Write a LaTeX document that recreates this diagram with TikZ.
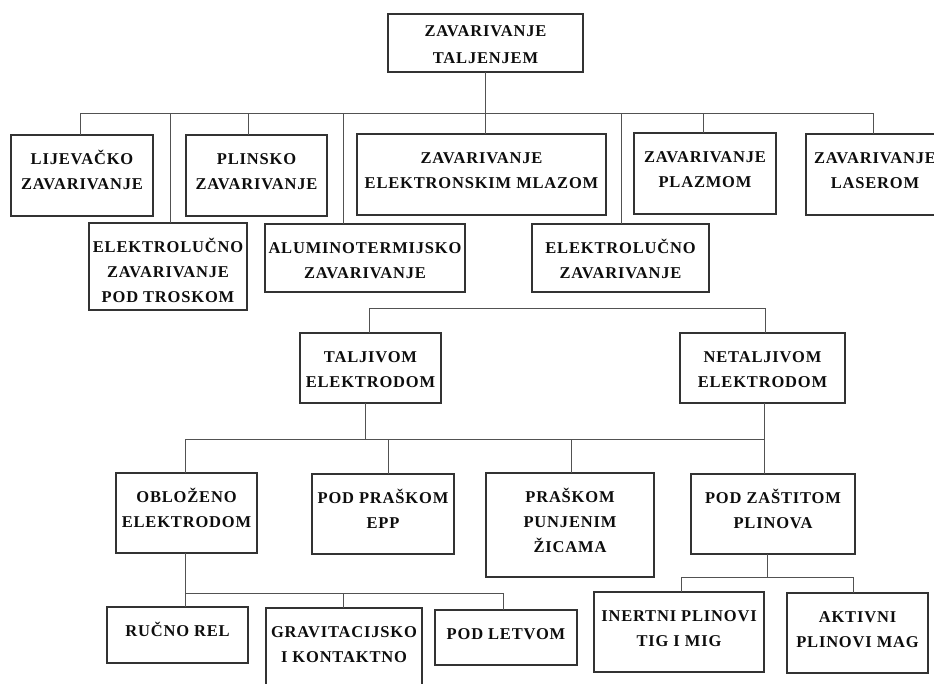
\documentclass[tikz,border=0pt]{standalone}
\usepackage{fontspec}
\setmainfont{Liberation Serif}[LetterSpace=5]
\begin{document}
\begin{tikzpicture}[x=1pt,y=-1pt,
  wbox/.style={draw=black!80, line width=1.1pt, rectangle, inner sep=0pt, outer sep=0pt, fill=white},
  wtxt/.style={anchor=base, align=center, inner sep=0pt, text=black!95,
    font=\fontsize{16.5}{25}\selectfont\bfseries},
  conn/.style={draw=black!68, line width=1pt}]
\clip (0,0) rectangle (934,684);
\fill[white] (0,0) rectangle (934,684);
% #6 = baseline of the LAST text line
\newcommand\wbox[7]{%
  \node[wbox, minimum width=#4pt, minimum height=#5pt] (#1) at (#2,#3) {};
  \node[wtxt] (#1t) at (#2,#6) {#7};}
% level 0
\node[wbox, minimum width=195pt, minimum height=58pt] (top) at (485.5,43) {};
\node[wtxt, font=\fontsize{16.5}{27}\selectfont\bfseries] (topt) at (485.5,64) {ZAVARIVANJE\\TALJENJEM};
% level 1
\wbox{lij}{82}{175.5}{142}{81}{189.5}{LIJEVAČKO\\ZAVARIVANJE}
\wbox{trosk}{168}{266.5}{158}{87}{302.5}{ELEKTROLUČNO\\ZAVARIVANJE\\POD TROSKOM}
\wbox{plin}{256.5}{175.5}{141}{81}{189.5}{PLINSKO\\ZAVARIVANJE}
\wbox{alu}{365}{258}{200}{68}{278.5}{ALUMINOTERMIJSKO\\ZAVARIVANJE}
\wbox{elm}{481.5}{174.5}{249}{81}{188.5}{ZAVARIVANJE\\ELEKTRONSKIM MLAZOM}
\wbox{elz}{620.5}{258}{177}{68}{278.5}{ELEKTROLUČNO\\ZAVARIVANJE}
\wbox{plaz}{705}{173.5}{142}{81}{187.5}{ZAVARIVANJE\\PLAZMOM}
\wbox{las}{875}{174.5}{138}{81}{188.5}{ZAVARIVANJE\\LASEROM}
% level 2
\wbox{talj}{370.5}{368}{141}{70}{387.5}{TALJIVOM\\ELEKTRODOM}
\wbox{netal}{762.5}{368}{165}{70}{387.5}{NETALJIVOM\\ELEKTRODOM}
% level 3
\wbox{obl}{186.5}{513}{141}{80}{527.5}{OBLOŽENO\\ELEKTRODOM}
\wbox{epp}{383}{514}{142}{80}{528.5}{POD PRAŠKOM\\EPP}
\wbox{zic}{570}{525}{168}{104}{552.5}{PRAŠKOM\\PUNJENIM\\ŽICAMA}
\wbox{zast}{773}{514}{164}{80}{528.5}{POD ZAŠTITOM\\PLINOVA}
% level 4
\wbox{ruc}{177.5}{635}{141}{56}{636.5}{RUČNO REL}
\wbox{grav}{344}{654}{156}{92}{662.5}{GRAVITACIJSKO\\I KONTAKTNO}
\wbox{letv}{506}{637.5}{142}{55}{639.5}{POD LETVOM}
\wbox{inert}{679}{632}{170}{80}{646.5}{INERTNI PLINOVI\\TIG I MIG}
\wbox{akt}{857.5}{633}{141}{80}{647.5}{AKTIVNI\\PLINOVI MAG}
% connectors level 0 -> 1
\path (top.south) ++(0,42) coordinate (b1);
\draw[conn] (top.south) -- (top.south |- elm.north);
\draw[conn] ([xshift=-2pt]lij.north) |- (b1);
\draw[conn] ([xshift=2pt]trosk.north) |- (b1);
\draw[conn] ([xshift=-8.5pt]plin.north) |- (b1);
\draw[conn] ([xshift=-22pt]alu.north) |- (b1);
\draw[conn] ([xshift=0.5pt]elz.north) |- (b1);
\draw[conn] ([xshift=-2pt]plaz.north) |- (b1);
\draw[conn] ([xshift=-2pt]las.north) |- (b1);
% level 1 -> 2
\draw[conn] ([xshift=-1.5pt]talj.north) -- ++(0,-24) -| ([xshift=2.5pt]netal.north);
% level 2 -> 3
\path ([xshift=-5.5pt]talj.south) ++(0,36) coordinate (b3);
\coordinate (z3) at ([xshift=-9pt]zast.north);
\draw[conn] ([xshift=-5.5pt]talj.south) -- (b3);
\draw[conn] ([xshift=-1.5pt]obl.north) |- (b3);
\draw[conn] ([xshift=5pt]epp.north) |- (b3);
\draw[conn] ([xshift=1pt]zic.north) |- (b3);
\draw[conn] ([xshift=1.5pt]netal.south) -- (z3);
\draw[conn] (b3) -- (b3 -| z3);
% level 3 -> 4
\path ([xshift=-1.5pt]obl.south) ++(0,40) coordinate (b4);
\draw[conn] ([xshift=-1.5pt]obl.south) -- (b4);
\draw[conn] ([xshift=7.5pt]ruc.north) |- (b4);
\draw[conn] ([xshift=-1pt]grav.north) |- (b4);
\draw[conn] ([xshift=-3pt]letv.north) |- (b4);
\path ([xshift=-6pt]zast.south) ++(0,23) coordinate (b5);
\draw[conn] ([xshift=-6pt]zast.south) -- (b5);
\draw[conn] ([xshift=2pt]inert.north) |- (b5);
\draw[conn] ([xshift=-4.5pt]akt.north) |- (b5);
\end{tikzpicture}
\end{document}
